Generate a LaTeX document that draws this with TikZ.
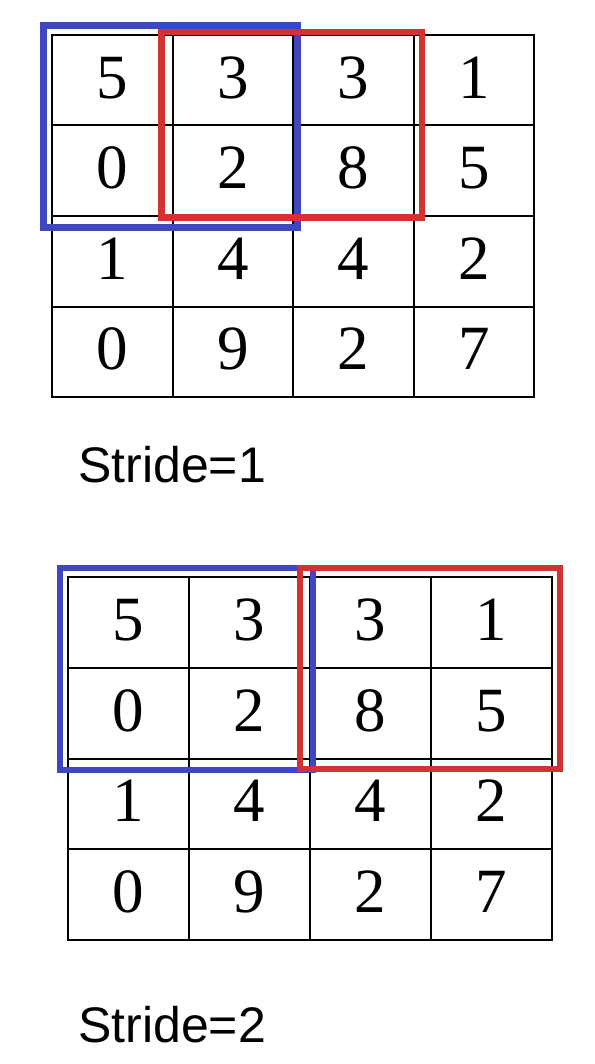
\documentclass[tikz,border=0pt]{standalone}
\usepackage{fontspec}
\setmainfont{Liberation Serif}
\newfontfamily\labelsans{Liberation Sans}
\definecolor{winblue}{RGB}{62,70,192}
\definecolor{winred}{RGB}{210,50,50}
\begin{document}
\begin{tikzpicture}[x=1pt,y=-1pt,
  cell/.style={draw, line width=2pt, inner sep=0pt, outer sep=0pt,
    font=\fontsize{63}{63}\selectfont, text height=44pt, text depth=8pt},
  topcell/.style={cell, minimum width=120.5pt, minimum height=90.5pt},
  botcell/.style={cell, minimum width=121pt, minimum height=90.75pt},
  bluewin/.style={draw=winblue, line width=7pt},
  redwin/.style={draw=winred, line width=6.5pt},
  stridelabel/.style={anchor=base west, inner sep=0pt, font=\labelsans\fontsize{50}{50}\selectfont}]
\useasboundingbox (0,0) rectangle (594,1064);
% top grid (stride 1)
\foreach \v [count=\i from 0] in {5,3,3,1,0,2,8,5,1,4,4,2,0,9,2,7} {
  \pgfmathtruncatemacro\r{\i/4}
  \pgfmathtruncatemacro\c{mod(\i,4)}
  \node[topcell] (t\r\c) at ({52+120.5*(\c+0.5)}, {35+90.5*(\r+0.5)}) {\v};
}
\draw[bluewin] (43,26) rectangle (297.5,228);
\draw[redwin] (161.5,32) rectangle (422,217.5);
\node[stridelabel] (s1) at (78,482) {Stride=1};
% bottom grid (stride 2)
\foreach \v [count=\i from 0] in {5,3,3,1,0,2,8,5,1,4,4,2,0,9,2,7} {
  \pgfmathtruncatemacro\r{\i/4}
  \pgfmathtruncatemacro\c{mod(\i,4)}
  \node[botcell] (b\r\c) at ({68+121*(\c+0.5)}, {577+90.75*(\r+0.5)}) {\v};
}
\draw[bluewin, line width=6.5pt] (60,568) rectangle (313,770);
\draw[redwin] (300,568) rectangle (560,769);
\node[stridelabel] (s2) at (78,1042) {Stride=2};
\end{tikzpicture}
\end{document}
